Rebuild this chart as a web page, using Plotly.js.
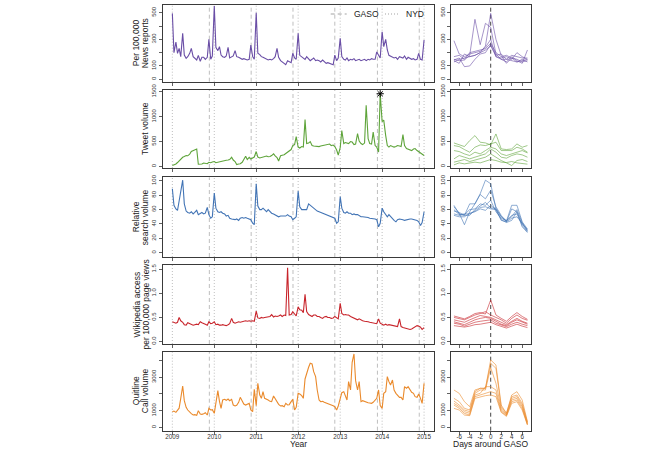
<!DOCTYPE html>
<html><head><meta charset="utf-8">
<script src="https://cdn.plot.ly/plotly-3.0.1.min.js"></script>
<style>html,body{margin:0;padding:0;background:#fff}#chart{width:660px;height:449px}</style>
</head><body><div id="chart"></div>
<script>
// ---------- categories / tick labels ----------
const yearTicks = ['2009-01-01','2010-01-01','2011-01-01','2012-01-01','2013-01-01','2014-01-01','2015-01-01'];
const yearLabels = ['2009','2010','2011','2012','2013','2014','2015'];
const gasoDates = ['2009-11-19','2010-11-18','2011-11-17','2012-11-15','2013-11-21','2014-11-20'];
const nydDates = yearTicks;
const days = [-7,-6,-5,-4,-3,-2,-1,0,1,2,3,4,5,6,7];
const dayTicks = [-6,-4,-2,0,2,4,6];

// semi-monthly sample dates (1st and 15th of each month), 2009-01-01 .. 2015-01-01
const dates = [];
for (let y = 2009; y <= 2014; y++) for (let m = 1; m <= 12; m++) for (const d of [1, 15])
  dates.push(y + '-' + String(m).padStart(2, '0') + '-' + String(d).padStart(2, '0'));
dates.push('2015-01-01');

// ---------- series ----------
const news = [
 495,200,280,195,232,170,345,182,157,170,195,232,170,160,145,180,135,165,165,150,165,300,150,175,
 550,240,215,245,182,170,165,175,240,160,165,175,215,170,165,158,150,155,150,145,150,257,170,150,
 500,195,185,170,165,160,150,145,150,145,155,170,232,165,140,130,125,110,140,130,125,195,160,150,
 345,180,170,160,150,170,155,140,150,160,140,145,140,130,145,135,120,125,120,120,110,182,140,160,
 307,170,150,145,160,140,150,145,155,140,145,150,140,145,150,140,150,145,155,150,150,205,175,160,
 357,245,300,220,180,175,170,160,165,150,170,165,160,175,150,165,160,150,155,145,150,195,150,145,
 295];
const tweets = [
 20,30,50,80,120,150,185,200,220,215,250,300,320,340,350,45,45,50,70,60,55,85,75,90,
 100,75,85,100,110,115,120,125,130,140,185,130,100,40,50,55,85,150,205,140,185,150,175,190,
 300,190,170,180,190,200,210,195,200,220,255,215,180,110,215,225,235,260,290,320,340,420,440,600,
 390,370,400,390,940,460,470,500,420,410,405,390,400,410,420,425,430,440,450,420,430,400,330,230,
 380,720,460,480,470,460,500,490,440,450,660,510,460,440,470,1230,560,460,450,690,420,390,290,1460,
 900,930,620,420,390,420,400,390,400,420,410,400,640,420,360,350,330,320,350,360,320,300,260,250,
 220];
const search = [
 89,66,61,59,72,85,101,68,58,56,55,57,54,56,59,53,55,56,54,55,63,53,48,50,
 83,62,57,56,57,55,54,51,52,48,47,46,46,47,45,48,49,48,49,48,47,46,41,39,
 96,65,60,60,62,59,57,60,57,55,54,53,52,50,51,51,50,51,53,51,50,46,48,50,
 86,64,60,60,61,60,68,66,65,62,60,58,57,56,55,54,53,52,51,50,49,48,41,43,
 78,62,56,55,57,55,55,53,54,53,53,51,50,50,50,49,49,48,48,47,47,46,36,41,
 62,57,52,50,53,50,48,45,43,46,47,47,46,45,46,46,47,47,46,45,45,43,38,42,
 57];
const wiki = [
 0.41,0.40,0.38,0.40,0.50,0.43,0.40,0.35,0.34,0.39,0.37,0.36,0.34,0.35,0.36,0.35,0.41,0.39,0.38,0.36,0.34,0.41,0.37,0.38,
 0.41,0.35,0.36,0.34,0.34,0.35,0.34,0.33,0.35,0.37,0.48,0.40,0.38,0.39,0.41,0.40,0.41,0.42,0.43,0.42,0.43,0.42,0.43,0.42,
 0.63,0.49,0.48,0.50,0.49,0.50,0.51,0.52,0.52,0.56,0.51,0.53,0.52,0.53,0.55,0.52,0.55,0.54,1.53,0.55,0.56,0.62,0.57,0.53,
 0.72,0.66,0.65,0.60,0.98,0.62,0.56,0.54,0.52,0.55,0.55,0.52,0.52,0.50,0.48,0.51,0.52,0.50,0.50,0.48,0.49,0.52,0.49,0.47,
 0.79,0.58,0.55,0.56,0.55,0.55,0.52,0.50,0.48,0.46,0.45,0.47,0.44,0.43,0.42,0.42,0.41,0.40,0.39,0.38,0.38,0.37,0.47,0.38,
 0.36,0.34,0.36,0.34,0.35,0.34,0.33,0.32,0.31,0.31,0.47,0.31,0.29,0.28,0.27,0.26,0.25,0.26,0.28,0.30,0.33,0.32,0.30,0.25,
 0.29];
const quitline = [
 940,980,900,1040,1150,1740,2480,1600,1200,1040,880,820,740,760,720,1000,800,780,820,880,740,1140,1040,1060,
 840,1500,2200,1560,1140,1640,1680,1620,1700,1600,1680,1340,1280,1320,1500,1800,1540,1400,1340,1400,1440,1040,940,2280,
 1300,2640,1940,1740,2140,1740,1700,1640,1560,1540,1880,1700,1480,1380,1280,1300,1240,1440,1340,1360,1540,1680,1040,1200,
 2040,2000,1900,1740,2900,3300,3600,3840,3800,3340,3040,2240,1640,1540,1560,1500,1460,1440,1400,1340,1300,1240,1040,1280,
 1700,2080,2140,1940,1640,2740,2240,3900,4400,2800,2240,2740,1540,1600,1540,1500,1480,1460,1440,1500,1640,1740,2240,1300,
 1140,2040,2140,3040,2740,2540,2840,2240,2040,1940,1800,1800,1640,2440,2340,2440,2240,2100,2040,1840,1800,2000,1740,1440,
 2640];

// days around GASO, one line per GASO (2009..2014)
const newsGaso = [
 [150,140,145,180,450,260,420,390,190,150,150,140,130,140,150],
 [130,150,160,170,180,200,250,495,300,180,120,160,150,130,140],
 [290,190,170,190,200,210,240,300,170,160,170,150,200,170,150],
 [145,160,95,100,150,190,200,260,170,150,130,170,140,120,220],
 [170,180,150,200,210,220,230,270,200,170,180,160,130,150,130],
 [140,120,190,170,180,200,220,250,180,190,150,180,170,160,160]];
const tweetsGaso = [
 [473,440,400,520,620,487,473,433,653,353,340,353,453,387,420],
 [420,400,340,287,387,433,420,453,487,320,320,320,387,353,287],
 [320,300,253,220,287,253,320,387,353,253,220,253,287,320,273],
 [153,220,187,153,187,220,253,353,287,187,167,220,253,233,187],
 [87,120,140,100,130,153,187,253,187,120,73,20,120,140,100],
 [33,73,53,67,87,73,100,140,120,87,80,100,73,53,47]];
const searchGaso = [
 [66,54,52,68,68,82,101,96,61,50,44,66,66,43,33],
 [64,55,39,57,68,81,75,87,64,52,43,61,57,40,31],
 [54,52,53,60,61,68,66,73,57,48,44,52,54,38,29],
 [52,50,50,55,57,61,59,66,60,46,42,45,57,36,28],
 [60,53,54,54,58,63,64,61,60,45,43,48,50,41,32],
 [58,56,52,52,60,65,70,62,62,50,45,50,60,42,30]];
const wikiGaso = [
 [0.53,0.50,0.47,0.52,0.58,0.60,0.57,0.86,0.55,0.48,0.42,0.52,0.60,0.52,0.46],
 [0.50,0.48,0.45,0.50,0.55,0.58,0.62,0.55,0.50,0.45,0.38,0.48,0.55,0.48,0.44],
 [0.45,0.42,0.40,0.45,0.50,0.54,0.52,0.50,0.45,0.40,0.35,0.42,0.48,0.42,0.38],
 [0.41,0.38,0.35,0.40,0.45,0.48,0.50,0.48,0.42,0.36,0.33,0.40,0.45,0.40,0.36],
 [0.38,0.36,0.32,0.36,0.40,0.42,0.44,0.45,0.38,0.34,0.31,0.36,0.40,0.36,0.33],
 [0.33,0.32,0.30,0.32,0.35,0.36,0.38,0.40,0.35,0.31,0.28,0.32,0.36,0.32,0.29]];
const quitGaso = [
 [2240,2040,1540,1240,2240,2340,2340,4040,3740,1340,840,1940,2140,1640,340],
 [1740,1540,1140,1040,2140,2340,2340,3840,3540,1240,840,1840,1940,1440,300],
 [1580,1340,1040,940,2040,2240,2240,3580,2640,1140,760,1740,1840,1340,240],
 [1440,1240,940,840,1940,2040,2440,2440,2240,1040,740,1640,1740,1240,200],
 [1340,1140,840,740,1840,1940,2040,2140,2040,940,700,1540,1640,1140,160],
 [1140,1040,740,700,1740,1840,1900,1940,1840,900,660,1440,1540,1040,140]];

// ---------- layout helpers ----------
const W = 660, H = 449;
const px = v => v / W, py = v => 1 - v / H;
const FONT = '"Liberation Sans", Arial, Helvetica, sans-serif';

const panels = [
  {s: news, g: newsGaso, c: '#6a4ea6', r: [-18, 560], tv: [0,100,200,300,400,500], tt: ['0','100','','300','','500'],
   top: 4.7, bot: 81.7, title: ['Per 100,000', 'News reports']},
  {s: tweets, g: tweetsGaso, c: '#5ea43a', r: [-30, 1535], tv: [0,500,1000,1500], tt: ['0','500','1000','1500'],
   top: 90, bot: 168, title: ['Tweet volume']},
  {s: search, g: searchGaso, c: '#4274b5', r: [-6, 105], tv: [0,20,40,60,80,100], tt: ['0','20','40','60','80','100'],
   top: 177.3, bot: 257, title: ['Relative', 'search volume']},
  {s: wiki, g: wikiGaso, c: '#c8252c', r: [-0.05, 1.585], tv: [0,0.5,1,1.5], tt: ['0.0','0.5','1.0','1.5'],
   top: 265, bot: 344, title: ['Wikipedia access', 'per 100,000 page views']},
  {s: quitline, g: quitGaso, c: '#ea8a2c', r: [-200, 4535], tv: [0,1000,2000,3000,4000], tt: ['0','1000','','3000',''],
   top: 351.7, bot: 430.7, title: ['Quitline', 'Call volume']}
];

const xL = [px(162.7), px(434.3)], xR = [px(451), px(530.7)];
const traces = [], shapes = [], annotations = [];
const layout = {
  width: W, height: H, margin: {l: 0, r: 0, t: 0, b: 0},
  paper_bgcolor: '#fff', plot_bgcolor: '#fff', showlegend: false,
  font: {family: FONT, color: '#222'}
};
const axCommon = {
  showline: true, mirror: true, linecolor: '#3a3a3a', linewidth: 1,
  ticks: 'outside', ticklen: 3, tickwidth: 0.8, tickcolor: '#3a3a3a',
  showgrid: false, zeroline: false, tickfont: {size: 6, color: '#333', family: FONT}, fixedrange: true
};

panels.forEach((p, k) => {
  const nL = 2 * k + 1, nR = 2 * k + 2;
  const last = k === panels.length - 1;
  const dom = [py(p.bot), py(p.top)];
  layout['xaxis' + nL] = Object.assign({}, axCommon, {
    domain: xL, anchor: 'y' + nL, type: 'date', range: ['2008-10-09', '2015-03-31'],
    tickmode: 'array', tickvals: yearTicks, ticktext: yearLabels, showticklabels: last,
    tickfont: {size: 6.3, color: '#333', family: FONT}, ticklabelstandoff: -3
  });
  layout['yaxis' + nL] = Object.assign({}, axCommon, {
    domain: dom, anchor: 'x' + nL, range: p.r, tickmode: 'array', tickvals: p.tv, ticktext: p.tt, tickangle: -90
  });
  layout['xaxis' + nR] = Object.assign({}, axCommon, {
    domain: xR, anchor: 'y' + nR, range: [-7.56, 7.62], tickmode: 'array', tickvals: dayTicks,
    ticktext: dayTicks.map(String), showticklabels: last, tickfont: {size: 6.3, color: '#333', family: FONT},
    ticklabelstandoff: -3
  });
  layout['yaxis' + nR] = Object.assign({}, axCommon, {
    domain: dom, anchor: 'x' + nR, range: p.r, tickmode: 'array', tickvals: p.tv, ticktext: p.tt, tickangle: -90
  });

  // reference lines
  nydDates.forEach(d => shapes.push({type: 'line', xref: 'x' + nL, yref: 'y' + nL + ' domain', x0: d, x1: d, y0: 0, y1: 1,
    line: {color: '#b8b8b8', width: 0.9, dash: '1px,2px'}, layer: 'below'}));
  gasoDates.forEach(d => shapes.push({type: 'line', xref: 'x' + nL, yref: 'y' + nL + ' domain', x0: d, x1: d, y0: 0, y1: 1,
    line: {color: '#b8b8b8', width: 0.9, dash: '4px,3px'}, layer: 'below'}));
  shapes.push({type: 'line', xref: 'x' + nR, yref: 'y' + nR + ' domain', x0: 0, x1: 0, y0: 0, y1: 1,
    line: {color: '#444', width: 1, dash: '4px,3px'}, layer: 'below'});

  // series
  traces.push({type: 'scatter', mode: 'lines', x: dates, y: p.s, xaxis: 'x' + nL, yaxis: 'y' + nL,
    line: {color: p.c, width: 1.1}, hoverinfo: 'skip'});
  p.g.forEach(row => traces.push({type: 'scatter', mode: 'lines', x: days, y: row, xaxis: 'x' + nR, yaxis: 'y' + nR,
    line: {color: p.c, width: 0.7}, opacity: 0.85, hoverinfo: 'skip'}));

  // y titles
  const yc = py((p.top + p.bot) / 2);
  const xs = p.title.length === 2 ? [136, 145] : [145];
  p.title.forEach((t, i) => annotations.push({text: t, xref: 'paper', yref: 'paper', x: px(xs[i]), y: yc,
    xanchor: 'center', yanchor: 'middle', textangle: -90, showarrow: false, font: {size: 8.5, color: '#222', family: FONT}}));
});

// marker at the tweet maximum
const tMax = Math.max(...tweets), tIdx = tweets.indexOf(tMax);
traces.push({type: 'scatter', mode: 'markers', x: [dates[tIdx]], y: [tMax], xaxis: 'x3', yaxis: 'y3',
  marker: {symbol: 'asterisk-open', size: 6, color: '#000', line: {color: '#000', width: 1}}, hoverinfo: 'skip'});

// x titles
annotations.push({text: 'Year', xref: 'paper', yref: 'paper', x: px(298.5), y: py(444), xanchor: 'center', yanchor: 'middle',
  showarrow: false, font: {size: 8.5, color: '#222', family: FONT}});
annotations.push({text: 'Days around GASO', xref: 'paper', yref: 'paper', x: px(490.8), y: py(444), xanchor: 'center', yanchor: 'middle',
  showarrow: false, font: {size: 8.5, color: '#222', family: FONT}});

// legend (GASO dashed, NYD dotted)
const legY = py(14);
shapes.push({type: 'line', xref: 'paper', yref: 'paper', x0: px(330.7), x1: px(346.7), y0: legY, y1: legY,
  line: {color: '#999', width: 0.9, dash: '4px,3px'}});
shapes.push({type: 'line', xref: 'paper', yref: 'paper', x0: px(385), x1: px(400), y0: legY, y1: legY,
  line: {color: '#999', width: 0.9, dash: '1px,2px'}});
annotations.push({text: 'GASO', xref: 'paper', yref: 'paper', x: px(352), y: legY, xanchor: 'left', yanchor: 'middle',
  showarrow: false, font: {size: 8.5, color: '#222', family: FONT}});
annotations.push({text: 'NYD', xref: 'paper', yref: 'paper', x: px(404), y: legY, xanchor: 'left', yanchor: 'middle',
  showarrow: false, font: {size: 8.5, color: '#222', family: FONT}});

layout.shapes = shapes;
layout.annotations = annotations;
Plotly.newPlot('chart', traces, layout, {staticPlot: true, displayModeBar: false});
</script>
</body></html>
